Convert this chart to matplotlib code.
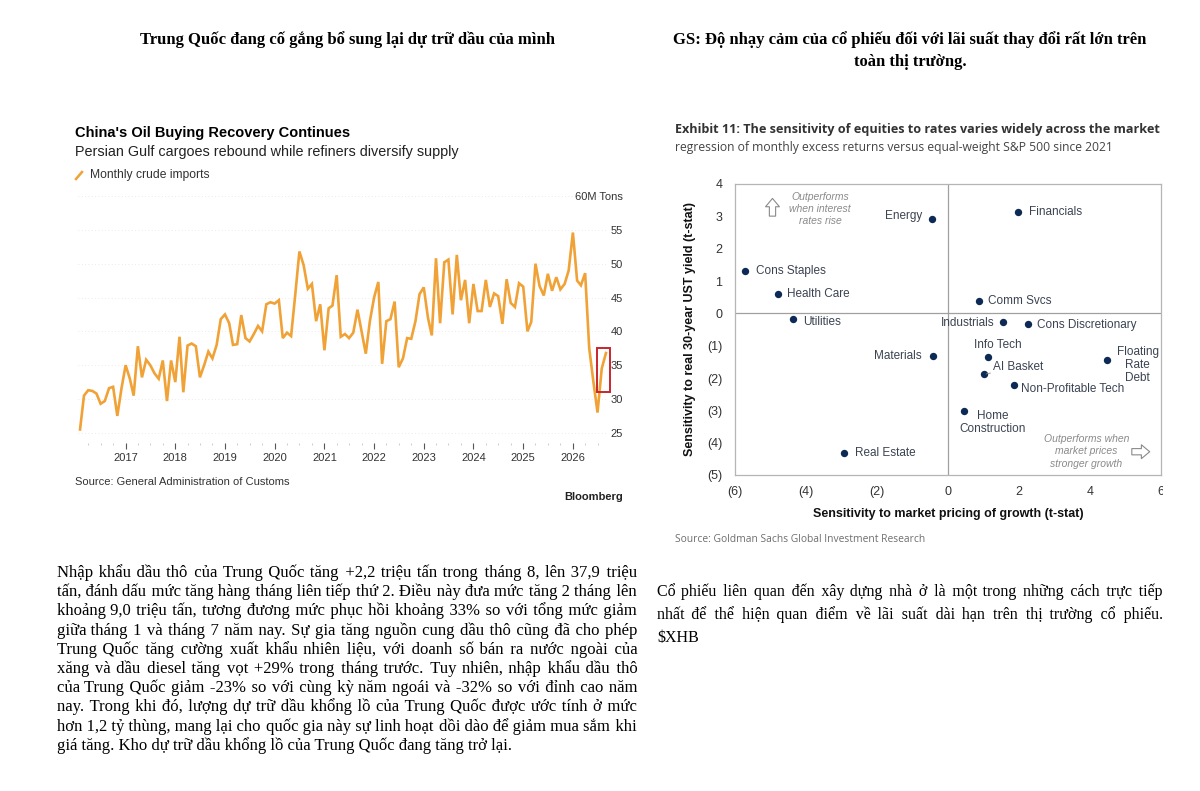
import numpy as np
import pandas as pd
import matplotlib
matplotlib.use("Agg")
import matplotlib.pyplot as plt
import matplotlib.dates as mdates
from matplotlib.patches import Rectangle
from matplotlib.transforms import Bbox

W, H = 1200, 791

# ---- data: China monthly crude imports (M tons), Feb 2016 onwards
imports = [25.5, 30.5, 31.3, 31.2, 30.8, 29.3, 29.7, 31.6, 31.8, 27.5, 31.5,
           35.0, 33.0, 30.5, 37.8, 33.2, 35.8, 35.0, 33.8, 33.0, 35.7, 29.7, 35.7,
           32.5, 39.2, 31.0, 37.9, 38.2, 37.8, 33.2, 35.0, 37.0, 36.0, 38.0, 41.8,
           42.5, 41.2, 38.0, 38.1, 42.4, 39.0, 38.5, 39.6, 40.8, 40.0, 44.0, 44.3,
           44.1, 44.6, 39.0, 39.8, 39.3, 45.5, 51.8, 49.8, 46.3, 47.0, 41.5, 44.0,
           37.2, 43.4, 43.8, 48.3, 39.2, 39.6, 39.0, 39.8, 43.2, 40.0, 36.7, 41.5,
           45.0, 47.3, 35.2, 41.5, 41.8, 44.4, 34.7, 36.0, 39.0, 38.9, 41.5, 45.5,
           46.5, 42.0, 39.4, 50.8, 41.2, 50.2, 50.6, 42.5, 51.3, 44.6, 47.6, 41.2,
           47.0, 43.0, 43.0, 47.6, 43.6, 45.6, 45.2, 41.1, 47.7, 44.2, 43.6, 47.1,
           46.6, 40.0, 41.4, 50.0, 46.7, 45.3, 48.5, 46.0, 48.0, 46.2, 47.0, 49.0,
           54.6, 47.5, 46.8, 48.6, 37.5, 32.5, 28.0, 34.5, 36.8]
dates = pd.date_range("2016-02-01", periods=len(imports), freq="MS")
years = list(range(2017, 2027))
oil_ticks = [25, 30, 35, 40, 45, 50, 55, 60]
oil_ticklabels = ["25", "30", "35", "40", "45", "50", "55", "60M Tons"]
highlight_lo, highlight_hi = 31.0, 37.6

# ---- data: GS sensitivity scatter (growth t-stat, rates t-stat)
sectors = ["Energy", "Financials", "Cons Staples", "Health Care", "Utilities",
           "Comm Svcs", "Industrials", "Cons Discretionary", "Materials",
           "Info Tech", "AI Basket", "Non-Profitable Tech", "Floating\nRate\nDebt",
           "Home\nConstruction", "Real Estate"]
growth = [-0.45, 1.97, -5.71, -4.80, -4.36, 0.86, 1.54, 2.24, -0.43,
          1.12, 1.00, 1.86, 4.48, 0.44, -2.92]
rates = [2.91, 3.14, 1.31, 0.61, -0.19, 0.38, -0.26, -0.32, -1.31,
         -1.36, -1.89, -2.21, -1.43, -3.03, -4.31]
# label offsets in points, horizontal and vertical alignment
lab_off = [(-7, 2, "right", "center"), (8, 0, "left", "center"),
           (8, 0, "left", "center"), (7, 0, "left", "center"),
           (7, -2, "left", "center"), (7, 0, "left", "center"),
           (-6, -1, "right", "center"), (7, -1, "left", "center"),
           (-8, 0, "right", "center"), (7, 9, "center", "center"),
           (7, 5, "left", "center"), (5, -3, "left", "center"),
           (22, -4, "center", "center"), (21, 1, "center", "top"),
           (8, 0, "left", "center")]
gx_ticks = [-6, -4, -2, 0, 2, 4, 6]
gx_labels = ["(6)", "(4)", "(2)", "0", "2", "4", "6"]
gy_ticks = [-5, -4, -3, -2, -1, 0, 1, 2, 3, 4]
gy_labels = ["(5)", "(4)", "(3)", "(2)", "(1)", "0", "1", "2", "3", "4"]

left_title = "Trung Quốc đang cố gắng bổ sung lại dự trữ dầu của mình"
right_title = ["GS: Độ nhạy cảm của cổ phiếu đối với lãi suất thay đổi rất lớn trên",
               "toàn thị trường."]
left_para = [
    "Nhập khẩu dầu thô của Trung Quốc tăng +2,2 triệu tấn trong tháng 8, lên 37,9 triệu",
    "tấn, đánh dấu mức tăng hàng tháng liên tiếp thứ 2. Điều này đưa mức tăng 2 tháng lên",
    "khoảng 9,0 triệu tấn, tương đương mức phục hồi khoảng 33% so với tổng mức giảm",
    "giữa tháng 1 và tháng 7 năm nay. Sự gia tăng nguồn cung dầu thô cũng đã cho phép",
    "Trung Quốc tăng cường xuất khẩu nhiên liệu, với doanh số bán ra nước ngoài của",
    "xăng và dầu diesel tăng vọt +29% trong tháng trước. Tuy nhiên, nhập khẩu dầu thô",
    "của Trung Quốc giảm -23% so với cùng kỳ năm ngoái và -32% so với đỉnh cao năm",
    "nay. Trong khi đó, lượng dự trữ dầu khổng lồ của Trung Quốc được ước tính ở mức",
    "hơn 1,2 tỷ thùng, mang lại cho quốc gia này sự linh hoạt dồi dào để giảm mua sắm khi",
    "giá tăng. Kho dự trữ dầu khổng lồ của Trung Quốc đang tăng trở lại.",
]
right_para = [
    "Cổ phiếu liên quan đến xây dựng nhà ở là một trong những cách trực tiếp",
    "nhất để thể hiện quan điểm về lãi suất dài hạn trên thị trường cổ phiếu.",
    "$XHB",
]

SERIF = ["Liberation Serif", "DejaVu Serif"]
SANS = ["Liberation Sans", "DejaVu Sans"]
GS = ["Open Sans", "DejaVu Sans"]
ORANGE = "#f0a236"
NAVY = "#0c2a55"
HAIR = "\u200a"

fig = plt.figure(figsize=(W / 100, H / 100), dpi=100)
fig.patch.set_facecolor("white")
rend = fig.canvas.get_renderer()


def px(x, y):
    return x / W, 1 - y / H


def width_of(s, size):
    t = fig.text(0, 0, s, family=SERIF, size=size, parse_math=False)
    w = t.get_window_extent(rend).width
    t.remove()
    return w


def justified(lines, x0, x1, y0, dy, size):
    # pad the gaps with hair spaces so every line but the last fills x0..x1
    hs = (width_of("a" + HAIR * 20 + "a", size) - width_of("aa", size)) / 20
    for k, line in enumerate(lines):
        fy = 1 - (y0 + k * dy) / H
        words = line.split(" ")
        if k < len(lines) - 1 and hs > 0.2:
            extra = x1 - x0 - width_of(line, size)
            n = max(0, int(round(extra / hs)))
            gaps = len(words) - 1
            out = words[0]
            for g in range(gaps):
                add = (n * (g + 1)) // gaps - (n * g) // gaps
                out += " " + HAIR * add + words[g + 1]
            line = out
        fig.text(x0 / W, fy, line, family=SERIF, size=size, va="baseline",
                 parse_math=False)


# ---- headings
fig.text(*px(347, 40), left_title, family=SERIF, weight="bold", size=12,
         ha="center", va="center")
fig.text(*px(910, 40), right_title[0], family=SERIF, weight="bold", size=12,
         ha="center", va="center")
fig.text(*px(910, 62), right_title[1], family=SERIF, weight="bold", size=12,
         ha="center", va="center")

# ---- left chart: oil imports
ax = fig.add_axes([78 / W, 1 - 443 / H, 530 / W, 247 / H])
ax.plot(dates, imports, color=ORANGE, lw=1.9, solid_joinstyle="miter")
ax.set_ylim(23.5, 60)
ax.set_xlim(mdates.date2num(dates[0]) - 15, mdates.date2num(dates[-1]) + 15)
for s in ax.spines.values():
    s.set_visible(False)
ax.yaxis.tick_right()
ax.set_yticks(oil_ticks)
ax.set_yticklabels(oil_ticklabels)
ax.tick_params(axis="y", length=0, pad=11, labelsize=8, labelcolor="#333333")
for t in ax.get_yticklabels():
    t.set_horizontalalignment("right")
    t.set_family(SANS)
ax.set_xticks([pd.Timestamp(f"{y}-01-01") for y in years])
ax.set_xticklabels([str(y) for y in years], family=SANS)
ax.xaxis.set_minor_locator(mdates.MonthLocator(bymonth=[4, 7, 10]))
ax.tick_params(axis="x", which="major", length=4, width=0.8, color="#555555",
               labelsize=8, labelcolor="#333333", pad=3)
ax.tick_params(axis="x", which="minor", length=1.5, width=0.6, color="#c4c4c4")
ax.grid(axis="y", color="#e4e4e4", lw=0.6, ls=(0, (1, 3)))
ax.set_axisbelow(True)
box0 = mdates.date2num(dates[-3]) - 6
ax.add_patch(Rectangle((box0, highlight_lo), 96, highlight_hi - highlight_lo,
                       fill=False, ec="#c8262b", lw=1.4, zorder=3, clip_on=False))

fig.text(*px(75, 133), "China's Oil Buying Recovery Continues", family=SANS,
         weight="bold", size=10.5, va="center")
fig.text(*px(75, 152), "Persian Gulf cargoes rebound while refiners diversify supply",
         family=SANS, size=10.35, va="center", color="#222222")
fig.add_artist(plt.Line2D([76 / W, 82 / W], [1 - 179 / H, 1 - 172 / H], color=ORANGE,
                          lw=1.8))
fig.text(*px(90, 175), "Monthly crude imports", family=SANS, size=8.7, va="center",
         color="#333333")
fig.text(*px(75, 482), "Source: General Administration of Customs", family=SANS,
         size=8, va="center", color="#333333")
fig.text(*px(623, 497), "Bloomberg", family=SANS, weight="bold", size=8,
         ha="right", va="center", color="#222222")

# ---- right chart: GS sensitivity scatter
bx = fig.add_axes([735 / W, 1 - 475 / H, 426 / W, 291 / H])
bx.set_xlim(-6, 6)
bx.set_ylim(-5, 4)
bx.axvline(0, color="#a0a0a0", lw=0.9, zorder=1)
bx.axhline(0, color="#a0a0a0", lw=0.9, zorder=1)
for s in bx.spines.values():
    s.set_color("#b5b5b5")
    s.set_linewidth(0.9)
bx.scatter(growth, rates, s=28, color=NAVY, zorder=3, linewidths=0)
for name, gx, gy, (ox, oy, ha, va) in zip(sectors, growth, rates, lab_off):
    arrow = None
    if name == "AI Basket":
        arrow = dict(arrowstyle="-", color="#888888", lw=0.6, shrinkA=0, shrinkB=2)
    bx.annotate(name, (gx, gy), xytext=(ox, oy), textcoords="offset points",
                ha=ha, va=va, size=8.5, family=SANS, color="#3b4352",
                linespacing=1.1, arrowprops=arrow)
bx.set_xticks(gx_ticks)
bx.set_xticklabels(gx_labels, family=SANS)
bx.set_yticks(gy_ticks)
bx.set_yticklabels(gy_labels, family=SANS)
bx.tick_params(length=0, labelsize=9, labelcolor="#333333")
bx.tick_params(axis="x", pad=8)
bx.tick_params(axis="y", pad=9)
# the source image is cropped through the last "6"
last = bx.get_xticklabels()[-1]
last.set_clip_on(True)
last.set_clip_box(Bbox.from_extents(0, 0, 1163, H))
bx.set_xlabel("Sensitivity to market pricing of growth (t-stat)", family=SANS,
              weight="bold", size=9, labelpad=7, color="#111111")
bx.set_ylabel("Sensitivity to real 30-year UST yield (t-stat)", family=SANS,
              weight="bold", size=9, labelpad=8, color="#111111")

arrow_style = "simple,head_width=1.0,head_length=0.6,tail_width=0.45"
bx.text(0.2, 0.914, "Outperforms\nwhen interest\nrates rise", transform=bx.transAxes,
        ha="center", va="center", style="italic", size=7.5, color="#8a8a8a",
        family=SANS, linespacing=1.3)
bx.annotate("", xy=(0.088, 0.96), xytext=(0.088, 0.88), xycoords="axes fraction",
            textcoords="axes fraction",
            arrowprops=dict(arrowstyle=arrow_style, fc="white", ec="#8a8a8a", lw=0.8))
bx.text(0.825, 0.082, "Outperforms when\nmarket prices\nstronger growth",
        transform=bx.transAxes, ha="center", va="center", style="italic", size=7.5,
        color="#8a8a8a", family=SANS, linespacing=1.3)
bx.annotate("", xy=(0.98, 0.08), xytext=(0.925, 0.08), xycoords="axes fraction",
            textcoords="axes fraction",
            arrowprops=dict(arrowstyle=arrow_style, fc="white", ec="#8a8a8a", lw=0.8))

fig.text(*px(675, 130), "Exhibit 11: The sensitivity of equities to rates varies widely across the market",
         family=GS, weight="bold", size=9.1, va="center", color="#333333")
fig.text(*px(675, 148), "regression of monthly excess returns versus equal-weight S&P 500 since 2021",
         family=GS, size=8.7, va="center", color="#444444")
fig.text(*px(675, 539), "Source: Goldman Sachs Global Investment Research", family=GS,
         size=7.4, va="center", color="#6e6e6e")

# ---- paragraphs
justified(left_para, 57, 637, 577, 19.2, 12)
justified(right_para, 657, 1163, 596, 22.8, 11.5)

fig.savefig("out.png", dpi=100, facecolor="white")
